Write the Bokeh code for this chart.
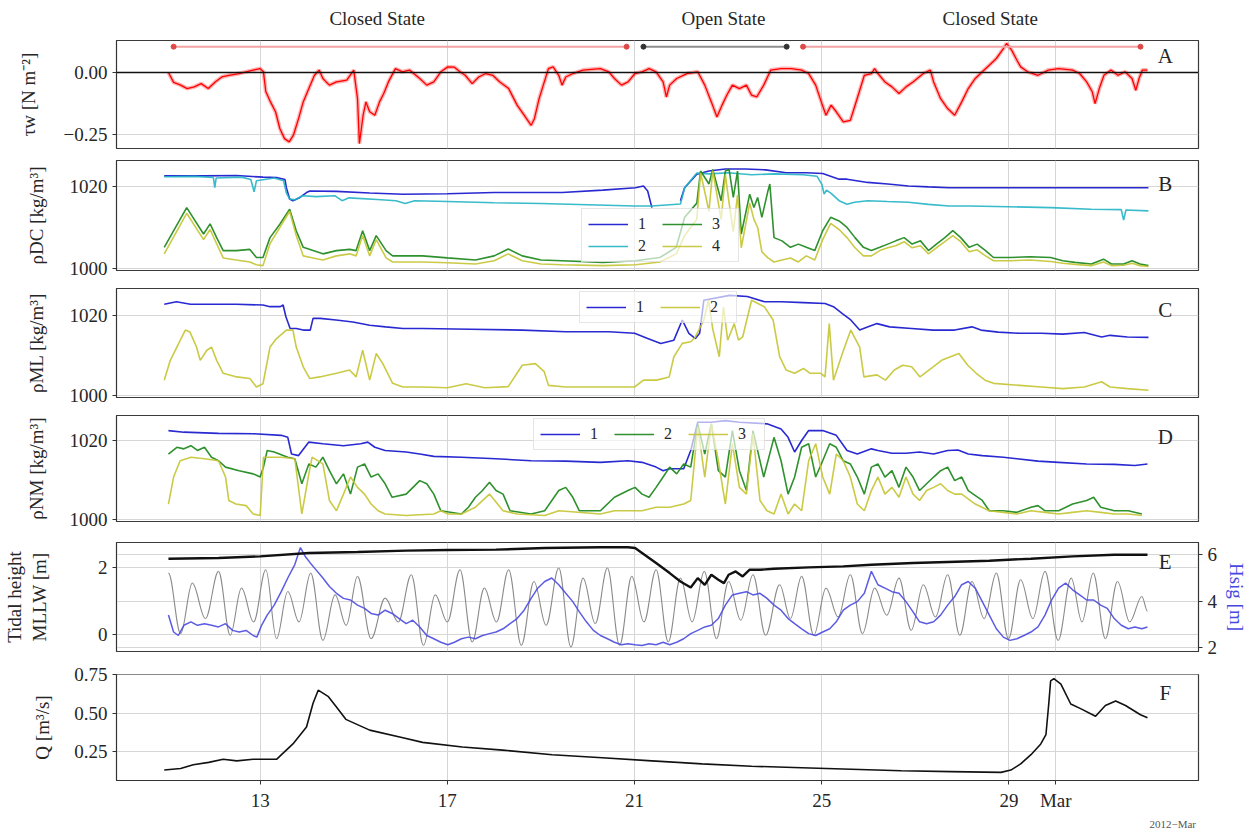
import numpy as np
from bokeh.plotting import figure
from bokeh.layouts import column
from bokeh.models import (Range1d, LinearAxis, FixedTicker, Span, Legend, LegendItem,
                          Label, Grid)
from bokeh.embed import file_html
from bokeh.resources import INLINE

# ------------------------------------------------------------------
# Data. Time is in days of February 2012 (day 30 = 1 March 2012).
# ------------------------------------------------------------------

# A: wind stress tau_w [N m^-2]
tau_w = [
    (11.04, 0.000), (11.15, -0.040), (11.29, -0.050), (11.44, -0.065), (11.59, -0.058),
    (11.74, -0.045), (11.89, -0.065), (12.04, -0.038), (12.18, -0.018), (12.33, -0.011),
    (12.55, -0.004), (12.85, 0.010), (13.00, 0.016), (13.07, 0.003), (13.12, -0.077),
    (13.22, -0.119), (13.33, -0.160), (13.42, -0.227), (13.52, -0.268), (13.62, -0.281),
    (13.71, -0.254), (13.82, -0.187), (13.92, -0.119), (14.04, -0.065), (14.16, -0.011),
    (14.26, 0.010), (14.34, -0.024), (14.41, -0.038), (14.48, -0.051), (14.63, -0.038),
    (14.85, -0.031), (15.00, 0.010), (15.08, -0.106), (15.12, -0.288), (15.20, -0.173),
    (15.26, -0.119), (15.34, -0.159), (15.45, -0.173), (15.55, -0.119), (15.64, -0.085),
    (15.74, -0.038), (15.89, 0.016), (16.04, 0.003), (16.19, 0.010), (16.41, -0.024),
    (16.56, -0.051), (16.71, -0.038), (16.86, 0.003), (17.01, 0.023), (17.15, 0.022),
    (17.27, 0.003), (17.38, -0.011), (17.53, -0.045), (17.67, -0.018), (17.82, -0.004),
    (17.97, -0.011), (18.12, -0.038), (18.31, -0.065), (18.49, -0.132), (18.64, -0.173),
    (18.79, -0.214), (18.86, -0.187), (18.96, -0.106), (19.05, -0.051), (19.16, 0.016),
    (19.26, 0.023), (19.38, -0.011), (19.45, -0.051), (19.53, -0.018), (19.68, -0.004),
    (19.90, 0.010), (20.27, 0.016), (20.45, 0.003), (20.57, -0.024), (20.72, -0.051),
    (20.86, -0.038), (21.01, -0.004), (21.16, 0.003), (21.31, 0.016), (21.46, 0.003),
    (21.61, -0.038), (21.68, -0.099), (21.75, -0.051), (21.90, -0.024), (22.12, -0.004),
    (22.35, 0.003), (22.50, -0.051), (22.64, -0.119), (22.76, -0.180), (22.87, -0.132),
    (22.97, -0.092), (23.09, -0.051), (23.24, -0.065), (23.39, -0.051), (23.50, -0.092),
    (23.61, -0.099), (23.76, -0.051), (23.91, 0.010), (24.13, 0.016), (24.35, 0.016),
    (24.57, 0.010), (24.72, -0.004), (24.87, -0.051), (24.99, -0.119), (25.09, -0.173),
    (25.20, -0.132), (25.31, -0.159), (25.46, -0.200), (25.61, -0.194), (25.69, -0.146),
    (25.79, -0.085), (25.91, -0.011), (26.06, -0.004), (26.13, 0.016), (26.20, -0.004),
    (26.35, -0.038), (26.50, -0.058), (26.65, -0.085), (26.80, -0.058), (26.95, -0.038),
    (27.17, -0.004), (27.32, 0.010), (27.39, -0.038), (27.54, -0.106), (27.69, -0.146),
    (27.84, -0.173), (27.99, -0.119), (28.13, -0.065), (28.28, -0.024), (28.43, 0.003),
    (28.58, 0.030), (28.73, 0.057), (28.88, 0.097), (28.95, 0.118), (29.06, 0.090),
    (29.17, 0.050), (29.25, 0.023), (29.40, 0.003), (29.62, -0.011), (29.84, 0.010),
    (30.06, 0.016), (30.36, 0.010), (30.51, -0.004), (30.66, -0.038), (30.78, -0.078),
    (30.84, -0.126), (30.93, -0.065), (31.03, -0.011), (31.18, 0.010), (31.33, -0.011),
    (31.48, 0.003), (31.63, -0.024), (31.71, -0.072), (31.78, -0.024), (31.85, 0.010),
    (31.96, 0.010),
]

# Inlet states
state_names = ["Closed State", "Open State", "Closed State"]
state_start = [11.15, 21.19, 24.60]
state_end = [20.83, 24.25, 31.81]
state_title_day = [15.5, 22.9, 28.6]

# B: density at DC, sensors 1-4 [kg/m^3]
rho_dc_1 = [
    (10.95, 1022.7), (11.79, 1022.7), (12.49, 1022.8), (13.06, 1022.4), (13.35, 1022.3),
    (13.53, 1021.8), (13.56, 1019.8), (13.63, 1017.0), (13.70, 1016.6), (13.85, 1017.4),
    (13.99, 1018.6), (14.06, 1019.0), (14.63, 1018.9), (15.34, 1018.5), (16.05, 1018.2),
    (17.00, 1018.3), (18.00, 1018.6), (19.45, 1018.6), (20.32, 1019.2), (21.02, 1019.8),
    (21.19, 1020.2), (21.28, 1019.0), (21.37, 1014.9), (21.60, np.nan),
    (21.98, 1016.6), (22.07, 1019.8), (22.33, 1023.1), (22.59, 1023.9), (22.94, 1024.4),
    (23.37, 1024.4), (23.80, 1024.2), (24.24, 1023.5), (24.67, 1023.5), (25.02, 1023.3),
    (25.37, 1021.9), (25.54, 1021.9), (25.98, 1021.1), (26.41, 1020.7), (26.85, 1020.2),
    (27.28, 1020.0), (27.72, 1019.8), (28.15, 1019.8), (29.02, 1019.8), (29.89, 1019.8),
    (30.76, 1019.8), (31.98, 1019.8),
]
rho_dc_2 = [
    (10.95, 1022.5), (11.60, 1022.6), (12.00, 1022.3), (12.03, 1019.8), (12.06, 1022.2),
    (12.60, 1022.4), (12.80, 1021.8), (12.87, 1018.8), (12.92, 1021.5), (13.30, 1022.2),
    (13.50, 1021.5), (13.56, 1018.5), (13.63, 1017.0), (13.75, 1016.8), (13.90, 1017.8),
    (14.20, 1017.6), (14.60, 1017.8), (14.75, 1016.6), (14.90, 1017.3), (15.50, 1016.9),
    (15.90, 1016.6), (16.10, 1015.9), (16.30, 1016.6), (17.00, 1016.4), (18.00, 1016.1),
    (19.00, 1015.9), (20.00, 1015.6), (21.00, 1015.3), (21.37, 1015.3), (21.98, 1015.8),
    (22.07, 1019.8), (22.33, 1023.4), (22.60, 1023.2), (23.00, 1023.5), (23.50, 1023.0),
    (24.00, 1023.2), (24.60, 1023.0), (24.90, 1022.6), (25.00, 1020.7), (25.05, 1018.2),
    (25.10, 1019.2), (25.20, 1018.4), (25.37, 1016.6), (25.54, 1015.7), (25.70, 1016.2),
    (25.98, 1016.6), (26.40, 1016.4), (26.85, 1016.2), (27.28, 1015.7), (27.72, 1015.3),
    (28.15, 1015.3), (29.00, 1015.1), (29.89, 1014.9), (30.76, 1014.5), (31.40, 1014.4),
    (31.45, 1011.8), (31.50, 1014.3), (31.98, 1014.1),
]
rho_dc_3 = [
    (10.95, 1005.1), (11.43, 1014.9), (11.79, 1008.4), (11.93, 1010.9), (12.07, 1007.5),
    (12.21, 1004.3), (12.49, 1004.3), (12.78, 1004.6), (12.92, 1002.6), (13.06, 1002.6),
    (13.21, 1007.5), (13.42, 1010.8), (13.63, 1014.5), (13.77, 1009.2), (13.92, 1005.1),
    (14.13, 1004.3), (14.34, 1003.5), (14.63, 1004.3), (14.91, 1004.6), (15.05, 1004.3),
    (15.19, 1009.2), (15.34, 1004.3), (15.48, 1008.0), (15.69, 1004.3), (15.83, 1003.0),
    (16.05, 1003.0), (16.47, 1003.0), (17.00, 1002.5), (17.60, 1002.0), (18.00, 1003.0),
    (18.30, 1004.7), (18.60, 1003.0), (19.00, 1002.0), (19.45, 1001.8), (20.32, 1001.4),
    (21.02, 1001.8), (21.54, 1002.6), (21.89, 1005.1), (22.07, 1012.5), (22.33, 1016.0),
    (22.41, 1023.9), (22.59, 1020.7), (22.67, 1024.3), (22.85, 1016.6), (22.94, 1023.9),
    (23.02, 1024.3), (23.11, 1017.4), (23.20, 1023.9), (23.28, 1008.4), (23.46, 1018.2),
    (23.55, 1014.9), (23.63, 1017.4), (23.72, 1012.5), (23.85, 1019.0), (23.89, 1020.7),
    (23.98, 1007.5), (24.15, 1006.7), (24.33, 1005.1), (24.50, 1005.9), (24.67, 1005.1),
    (24.85, 1004.3), (25.02, 1009.2), (25.19, 1012.5), (25.37, 1011.6), (25.54, 1010.0),
    (25.71, 1007.5), (25.89, 1005.1), (26.06, 1004.3), (26.24, 1005.1), (26.41, 1005.9),
    (26.58, 1006.7), (26.76, 1007.5), (26.93, 1005.9), (27.11, 1006.7), (27.28, 1004.3),
    (27.45, 1005.9), (27.63, 1007.5), (27.80, 1009.2), (27.97, 1007.5), (28.15, 1005.1),
    (28.32, 1005.9), (28.50, 1004.3), (28.67, 1002.6), (29.02, 1002.6), (29.45, 1002.8),
    (29.89, 1002.6), (30.15, 1001.8), (30.41, 1001.4), (30.76, 1001.0), (31.02, 1002.2),
    (31.19, 1001.0), (31.45, 1001.0), (31.63, 1001.8), (31.80, 1001.0), (31.98, 1000.6),
]
rho_dc_4 = [
    (10.95, 1003.5), (11.43, 1013.5), (11.79, 1007.0), (11.93, 1009.5), (12.07, 1006.0),
    (12.21, 1002.5), (12.49, 1002.0), (12.78, 1001.5), (12.92, 1000.8), (13.06, 1000.6),
    (13.21, 1006.0), (13.42, 1010.0), (13.63, 1014.0), (13.77, 1008.0), (13.92, 1003.0),
    (14.13, 1002.5), (14.34, 1002.0), (14.63, 1003.0), (14.91, 1003.5), (15.05, 1003.0),
    (15.19, 1008.0), (15.34, 1003.0), (15.48, 1007.0), (15.69, 1002.5), (15.83, 1001.5),
    (16.05, 1001.5), (16.47, 1001.5), (17.00, 1001.3), (17.60, 1001.0), (18.00, 1001.8),
    (18.30, 1003.5), (18.60, 1001.8), (19.00, 1001.0), (19.45, 1000.8), (20.32, 1000.6),
    (21.02, 1000.8), (21.54, 1001.5), (21.89, 1003.5), (22.07, 1008.0), (22.33, 1012.0),
    (22.41, 1023.5), (22.59, 1014.0), (22.67, 1024.0), (22.85, 1012.0), (22.94, 1023.0),
    (23.02, 1016.0), (23.11, 1009.0), (23.20, 1018.0), (23.28, 1005.0), (23.46, 1016.0),
    (23.55, 1012.0), (23.63, 1010.0), (23.72, 1004.0), (23.85, 1002.5), (23.98, 1001.5),
    (24.15, 1002.0), (24.33, 1002.5), (24.50, 1001.5), (24.67, 1003.0), (24.85, 1002.0),
    (25.02, 1007.0), (25.19, 1011.0), (25.37, 1009.5), (25.54, 1007.5), (25.71, 1005.0),
    (25.89, 1003.0), (26.06, 1003.0), (26.24, 1004.3), (26.41, 1005.0), (26.58, 1005.5),
    (26.76, 1006.5), (26.93, 1005.0), (27.11, 1005.5), (27.28, 1003.5), (27.45, 1005.0),
    (27.63, 1006.5), (27.80, 1008.0), (27.97, 1006.5), (28.15, 1004.0), (28.32, 1004.5),
    (28.50, 1003.0), (28.67, 1001.8), (29.02, 1001.8), (29.45, 1002.0), (29.89, 1001.6),
    (30.15, 1001.2), (30.41, 1000.9), (30.76, 1000.6), (31.02, 1001.5), (31.19, 1000.6),
    (31.45, 1000.7), (31.63, 1001.2), (31.80, 1000.6), (31.98, 1000.4),
]

# C: density at ML, sensors 1-2 [kg/m^3]
rho_ml_1 = [
    (10.95, 1022.7), (11.21, 1023.3), (11.51, 1022.7), (11.79, 1022.7), (12.49, 1022.7),
    (13.06, 1022.5), (13.21, 1022.1), (13.43, 1022.1), (13.49, 1022.5), (13.55, 1019.6),
    (13.64, 1016.7), (13.77, 1016.7), (13.92, 1016.3), (14.07, 1016.3), (14.13, 1019.2),
    (14.28, 1019.2), (14.62, 1018.8), (14.98, 1018.3), (15.34, 1017.5), (15.68, 1017.1),
    (16.05, 1016.7), (16.47, 1016.7), (17.50, 1016.5), (18.60, 1016.3), (19.53, 1015.9),
    (20.45, 1015.9), (21.00, 1015.5), (21.28, 1014.2), (21.56, 1013.0), (21.84, 1013.8),
    (22.02, 1018.8), (22.16, 1015.5), (22.30, 1014.2), (22.39, 1015.5), (22.48, 1023.7),
    (23.03, 1024.9), (23.41, 1024.6), (23.78, 1023.3), (24.14, 1023.3), (24.61, 1023.1),
    (25.07, 1022.9), (25.25, 1022.1), (25.44, 1020.4), (25.62, 1018.8), (25.81, 1016.3),
    (25.99, 1017.1), (26.18, 1017.9), (26.45, 1017.1), (26.92, 1016.7), (27.38, 1016.3),
    (27.84, 1016.3), (28.21, 1017.1), (28.40, 1016.3), (28.77, 1015.8), (29.23, 1015.5),
    (29.69, 1015.5), (30.15, 1015.3), (30.61, 1015.7), (30.98, 1014.6), (31.16, 1015.0),
    (31.53, 1014.6), (31.98, 1014.5),
]
rho_ml_2 = [
    (10.95, 1003.9), (11.08, 1008.8), (11.22, 1012.1), (11.40, 1016.3), (11.50, 1015.8),
    (11.64, 1012.1), (11.72, 1008.8), (11.86, 1011.3), (11.96, 1012.1), (12.07, 1008.8),
    (12.21, 1005.6), (12.50, 1004.7), (12.78, 1004.3), (12.92, 1002.2), (13.06, 1003.0),
    (13.21, 1012.1), (13.35, 1014.2), (13.56, 1016.3), (13.70, 1016.3), (13.77, 1012.1),
    (13.92, 1007.2), (14.06, 1004.3), (14.27, 1004.7), (14.63, 1005.6), (14.91, 1006.4),
    (15.05, 1004.7), (15.19, 1011.3), (15.34, 1003.9), (15.48, 1010.5), (15.62, 1008.0),
    (15.83, 1003.1), (16.05, 1002.2), (16.47, 1002.2), (17.00, 1002.0), (17.40, 1003.0),
    (17.80, 1002.0), (18.30, 1002.3), (18.60, 1007.6), (18.88, 1008.0), (19.07, 1006.0),
    (19.16, 1002.6), (19.53, 1002.2), (20.45, 1002.2), (21.00, 1002.2), (21.19, 1003.9),
    (21.47, 1003.9), (21.74, 1004.7), (21.84, 1009.7), (22.02, 1013.0), (22.20, 1013.4),
    (22.30, 1014.6), (22.48, 1018.8), (22.58, 1023.7), (22.67, 1016.6), (22.81, 1009.7),
    (22.90, 1022.0), (22.99, 1013.8), (23.13, 1017.9), (23.22, 1013.8), (23.31, 1014.6),
    (23.50, 1023.7), (23.78, 1022.0), (23.96, 1018.8), (24.10, 1009.7), (24.24, 1006.4),
    (24.42, 1005.6), (24.61, 1006.8), (24.75, 1005.6), (24.98, 1005.6), (25.07, 1004.7),
    (25.16, 1017.9), (25.25, 1003.9), (25.44, 1010.5), (25.62, 1016.3), (25.81, 1012.1),
    (25.90, 1004.7), (26.18, 1005.2), (26.36, 1003.9), (26.55, 1006.4), (26.73, 1007.6),
    (26.92, 1007.2), (27.10, 1004.7), (27.38, 1007.2), (27.56, 1008.8), (27.75, 1009.7),
    (27.93, 1010.5), (28.12, 1007.6), (28.30, 1005.6), (28.49, 1003.9), (28.67, 1003.1),
    (29.23, 1002.6), (29.69, 1002.2), (30.15, 1001.8), (30.61, 1002.2), (30.98, 1003.5),
    (31.16, 1002.2), (31.53, 1001.8), (31.98, 1001.4),
]

# D: density at NM, sensors 1-3 [kg/m^3]
rho_nm_1 = [
    (11.04, 1022.5), (11.37, 1022.1), (12.11, 1021.8), (12.85, 1021.7), (13.45, 1021.3),
    (13.59, 1020.8), (13.67, 1016.6), (13.82, 1016.2), (14.04, 1019.6), (14.34, 1019.2),
    (14.78, 1018.7), (15.15, 1019.2), (15.30, 1019.6), (15.45, 1018.3), (15.67, 1017.5),
    (16.12, 1017.1), (16.41, 1016.6), (16.71, 1016.0), (17.30, 1015.8), (18.04, 1015.4),
    (18.79, 1014.9), (19.53, 1014.8), (20.27, 1014.5), (20.86, 1014.9), (21.16, 1014.5),
    (21.46, 1013.3), (21.61, 1012.4), (21.75, 1012.9), (22.05, 1012.9), (22.20, 1017.5),
    (22.35, 1024.6), (22.64, 1024.6), (22.94, 1025.0), (23.24, 1024.6), (23.83, 1024.2),
    (24.13, 1022.9), (24.28, 1020.8), (24.42, 1017.1), (24.57, 1020.0), (24.72, 1022.5),
    (25.02, 1022.5), (25.31, 1021.3), (25.54, 1017.5), (25.76, 1016.6), (26.06, 1017.9),
    (26.20, 1017.5), (26.50, 1016.8), (26.80, 1016.8), (27.09, 1017.1), (27.39, 1016.6),
    (27.69, 1017.5), (27.91, 1017.6), (28.13, 1016.6), (28.43, 1016.2), (28.88, 1015.8),
    (29.17, 1015.4), (29.62, 1014.8), (30.06, 1014.5), (30.66, 1014.1), (31.25, 1014.0),
    (31.69, 1013.7), (31.96, 1014.1),
]
rho_nm_2 = [
    (11.04, 1016.6), (11.22, 1018.3), (11.37, 1017.9), (11.52, 1018.7), (11.66, 1017.5),
    (11.81, 1018.3), (11.96, 1015.8), (12.11, 1014.9), (12.26, 1013.3), (12.55, 1012.4),
    (12.85, 1011.6), (13.00, 1010.8), (13.07, 1013.3), (13.15, 1017.5), (13.30, 1017.1),
    (13.59, 1015.8), (13.74, 1015.4), (13.89, 1009.1), (14.04, 1014.1), (14.19, 1013.3),
    (14.34, 1015.8), (14.48, 1012.4), (14.63, 1009.1), (14.78, 1011.6), (14.93, 1006.5),
    (15.08, 1013.3), (15.23, 1014.1), (15.37, 1010.8), (15.52, 1011.6), (15.67, 1009.1),
    (15.82, 1005.7), (16.12, 1006.5), (16.41, 1009.9), (16.56, 1009.1), (16.71, 1006.5),
    (16.86, 1002.3), (17.30, 1001.5), (17.45, 1003.2), (17.60, 1005.7), (17.75, 1007.4),
    (17.90, 1009.5), (18.04, 1007.4), (18.19, 1006.5), (18.34, 1002.3), (18.79, 1001.5),
    (19.08, 1002.3), (19.38, 1007.4), (19.53, 1008.2), (19.68, 1005.7), (19.82, 1002.3),
    (20.27, 1002.3), (20.57, 1005.7), (20.86, 1007.4), (21.01, 1008.2), (21.16, 1006.5),
    (21.31, 1005.7), (21.46, 1008.2), (21.61, 1010.8), (21.75, 1013.3), (21.90, 1011.6),
    (22.05, 1014.1), (22.20, 1013.3), (22.35, 1024.2), (22.50, 1016.6), (22.64, 1024.2),
    (22.79, 1012.4), (22.94, 1010.8), (23.09, 1022.5), (23.24, 1012.4), (23.39, 1007.4),
    (23.53, 1022.5), (23.76, 1010.8), (23.98, 1020.8), (24.13, 1014.9), (24.28, 1006.5),
    (24.42, 1010.8), (24.57, 1018.3), (24.72, 1019.2), (24.87, 1010.8), (25.02, 1014.9),
    (25.17, 1019.2), (25.31, 1018.3), (25.46, 1014.9), (25.61, 1014.1), (25.76, 1010.8),
    (25.91, 1006.5), (26.06, 1013.3), (26.20, 1014.1), (26.35, 1010.8), (26.50, 1012.4),
    (26.65, 1008.2), (26.80, 1013.3), (26.95, 1010.8), (27.09, 1007.4), (27.24, 1009.1),
    (27.39, 1010.8), (27.54, 1012.4), (27.69, 1013.3), (27.84, 1009.9), (27.99, 1010.8),
    (28.13, 1007.4), (28.43, 1004.9), (28.58, 1002.3), (28.88, 1002.3), (29.17, 1001.9),
    (29.47, 1003.2), (29.62, 1003.6), (29.77, 1002.3), (30.06, 1002.3), (30.36, 1004.0),
    (30.66, 1004.9), (30.81, 1005.7), (30.96, 1003.2), (31.25, 1002.3), (31.55, 1002.3),
    (31.84, 1001.5),
]
rho_nm_3 = [
    (11.04, 1004.0), (11.15, 1010.8), (11.29, 1014.9), (11.52, 1015.8), (11.81, 1015.4),
    (12.11, 1014.9), (12.26, 1010.8), (12.33, 1004.9), (12.48, 1004.0), (12.70, 1003.6),
    (12.85, 1001.5), (13.00, 1001.1), (13.07, 1015.8), (13.45, 1015.8), (13.74, 1015.4),
    (13.89, 1001.5), (14.04, 1011.6), (14.11, 1015.8), (14.34, 1014.1), (14.48, 1004.9),
    (14.63, 1002.3), (14.78, 1006.5), (14.93, 1010.8), (15.08, 1008.2), (15.23, 1006.5),
    (15.37, 1004.0), (15.52, 1002.3), (15.67, 1001.5), (16.12, 1001.1), (16.71, 1001.5),
    (16.86, 1002.3), (17.01, 1001.5), (17.30, 1001.5), (17.60, 1003.2), (17.90, 1006.5),
    (18.19, 1002.3), (18.49, 1001.5), (19.08, 1001.1), (19.38, 1002.3), (20.27, 1001.5),
    (20.57, 1002.3), (21.16, 1002.3), (21.46, 1003.2), (21.75, 1003.2), (22.05, 1004.0),
    (22.20, 1004.9), (22.35, 1023.4), (22.50, 1010.8), (22.64, 1024.2), (22.79, 1014.9),
    (22.94, 1004.0), (23.09, 1019.2), (23.24, 1008.2), (23.39, 1006.5), (23.53, 1021.7),
    (23.68, 1004.9), (23.83, 1002.3), (23.98, 1001.5), (24.13, 1006.5), (24.28, 1001.5),
    (24.42, 1004.0), (24.57, 1002.3), (24.72, 1014.9), (24.87, 1019.2), (25.02, 1010.8),
    (25.17, 1006.5), (25.31, 1016.6), (25.46, 1014.9), (25.61, 1010.8), (25.76, 1004.0),
    (25.91, 1002.3), (26.06, 1007.4), (26.20, 1010.8), (26.35, 1006.5), (26.50, 1008.2),
    (26.65, 1005.7), (26.80, 1010.8), (26.95, 1006.5), (27.09, 1004.9), (27.24, 1007.4),
    (27.39, 1008.2), (27.54, 1009.1), (27.69, 1007.4), (27.84, 1006.5), (27.99, 1006.5),
    (28.28, 1004.0), (28.58, 1002.3), (28.88, 1001.9), (29.17, 1001.5), (29.47, 1002.3),
    (29.77, 1001.9), (30.06, 1001.5), (30.36, 1001.9), (30.66, 1002.3), (30.96, 1001.9),
    (31.25, 1001.5), (31.55, 1001.5), (31.84, 1001.1),
]

# E: tidal height (turning points), MLLW [m]
tide_turning = [
    (11.04, 1.84), (11.30, 0.03), (11.55, 1.54), (11.83, 0.48), (12.11, 1.89), (12.36, -0.02),
    (12.60, 1.39), (12.86, 0.38), (13.12, 1.94), (13.35, -0.12), (13.59, 1.29), (13.83, 0.38),
    (14.08, 1.84), (14.34, -0.17), (14.60, 1.19), (14.84, 0.28), (15.08, 1.74), (15.37, -0.12),
    (15.67, 1.09), (15.95, 0.38), (16.23, 1.79), (16.49, -0.32), (16.74, 1.19), (17.00, 0.38),
    (17.27, 1.94), (17.53, -0.22), (17.79, 1.39), (18.05, 0.38), (18.31, 1.94), (18.58, -0.32),
    (18.85, 1.59), (19.11, 0.28), (19.38, 1.99), (19.64, -0.37), (19.90, 1.69), (20.16, 0.33),
    (20.42, 1.99), (20.68, -0.32), (20.94, 1.74), (21.20, 0.38), (21.46, 1.94), (21.72, -0.22),
    (21.98, 1.69), (22.23, 0.38), (22.49, 1.89), (22.75, -0.12), (23.01, 1.59), (23.27, 0.43),
    (23.53, 1.79), (23.80, -0.02), (24.10, 1.49), (24.33, 0.48), (24.57, 1.74), (24.83, -0.02),
    (25.09, 1.39), (25.35, 0.53), (25.61, 1.79), (25.87, 0.03), (26.13, 1.39), (26.39, 0.58),
    (26.65, 1.69), (26.91, 0.13), (27.17, 1.49), (27.43, 0.53), (27.69, 1.79), (27.95, -0.02),
    (28.21, 1.59), (28.47, 0.48), (28.73, 1.84), (28.99, -0.12), (29.25, 1.64), (29.51, 0.48),
    (29.77, 1.89), (30.05, -0.17), (30.33, 1.69), (30.56, 0.38), (30.80, 1.84), (31.06, -0.12),
    (31.32, 1.59), (31.58, 0.38), (31.84, 1.14), (31.96, 0.70),
]
# E: slowly varying level (black) [m]
level_mllw = [
    (11.04, 2.27), (12.11, 2.29), (13.00, 2.34), (14.04, 2.44), (15.08, 2.47), (16.12, 2.51),
    (17.01, 2.53), (18.04, 2.54), (19.08, 2.59), (20.27, 2.61), (20.86, 2.61), (21.01, 2.59),
    (21.16, 2.44), (21.46, 2.14), (21.75, 1.84), (21.98, 1.59), (22.20, 1.41), (22.35, 1.69),
    (22.50, 1.49), (22.64, 1.79), (22.79, 1.64), (22.91, 1.54), (23.01, 1.79), (23.16, 1.89),
    (23.31, 1.74), (23.46, 1.94), (23.68, 1.94), (23.98, 1.97), (24.72, 2.01), (25.46, 2.04),
    (26.06, 2.09), (26.95, 2.14), (27.69, 2.17), (28.58, 2.21), (29.47, 2.27), (30.36, 2.34),
    (31.25, 2.39), (31.96, 2.39),
]
# E: significant wave height H_sig [m]
h_sig = [
    (11.04, 3.40), (11.15, 2.67), (11.25, 2.52), (11.37, 2.96), (11.52, 3.11), (11.66, 2.96),
    (11.81, 3.03), (11.96, 2.96), (12.11, 2.89), (12.26, 3.03), (12.41, 2.74), (12.55, 2.67),
    (12.70, 2.74), (12.85, 2.52), (12.93, 2.45), (13.03, 2.96), (13.15, 3.40), (13.30, 3.83),
    (13.45, 4.41), (13.59, 5.00), (13.74, 5.58), (13.86, 6.31), (13.96, 5.94), (14.07, 5.65),
    (14.19, 5.36), (14.34, 5.00), (14.48, 4.63), (14.63, 4.34), (14.78, 4.12), (14.93, 4.05),
    (15.08, 3.83), (15.23, 3.69), (15.37, 3.47), (15.52, 3.40), (15.67, 3.61), (15.82, 3.47),
    (15.97, 3.25), (16.12, 3.03), (16.26, 3.18), (16.41, 2.89), (16.56, 2.52), (16.71, 2.38),
    (16.86, 2.23), (17.01, 2.12), (17.15, 2.23), (17.30, 2.38), (17.45, 2.45), (17.60, 2.38),
    (17.75, 2.52), (17.90, 2.60), (18.04, 2.67), (18.19, 2.81), (18.34, 3.03), (18.49, 3.25),
    (18.64, 3.61), (18.79, 4.12), (18.93, 4.56), (19.08, 4.85), (19.23, 5.00), (19.38, 4.71),
    (19.53, 4.34), (19.68, 3.98), (19.82, 3.54), (19.97, 3.11), (20.12, 2.74), (20.27, 2.52),
    (20.42, 2.38), (20.57, 2.23), (20.72, 2.12), (20.86, 2.16), (21.01, 2.12), (21.16, 2.09),
    (21.31, 2.16), (21.46, 2.12), (21.61, 2.23), (21.75, 2.12), (21.90, 2.23), (22.05, 2.38),
    (22.20, 2.60), (22.35, 2.74), (22.50, 2.89), (22.64, 2.96), (22.79, 3.25), (22.94, 3.83),
    (23.09, 4.27), (23.24, 4.34), (23.39, 4.41), (23.53, 4.27), (23.68, 4.34), (23.83, 4.12),
    (23.98, 3.83), (24.13, 3.61), (24.28, 3.25), (24.42, 3.03), (24.57, 2.81), (24.72, 2.60),
    (24.87, 2.52), (25.02, 2.67), (25.17, 2.81), (25.31, 3.11), (25.46, 3.61), (25.61, 3.83),
    (25.76, 3.98), (25.91, 4.34), (26.06, 5.29), (26.20, 4.71), (26.35, 4.56), (26.50, 4.41),
    (26.65, 4.34), (26.80, 3.98), (26.95, 3.54), (27.09, 3.11), (27.24, 3.03), (27.39, 3.11),
    (27.54, 3.40), (27.69, 3.83), (27.84, 4.20), (27.99, 4.71), (28.13, 4.85), (28.28, 4.56),
    (28.43, 3.98), (28.58, 3.40), (28.73, 2.81), (28.88, 2.45), (29.02, 2.31), (29.17, 2.38),
    (29.32, 2.52), (29.47, 2.67), (29.62, 2.89), (29.77, 3.40), (29.91, 4.05), (30.06, 4.56),
    (30.21, 4.78), (30.36, 4.49), (30.51, 4.27), (30.66, 4.05), (30.81, 4.05), (30.96, 3.83),
    (31.10, 3.69), (31.25, 3.25), (31.40, 2.96), (31.55, 2.81), (31.69, 2.89), (31.84, 2.81),
    (31.96, 2.89),
]

# F: river discharge Q [m^3/s]
discharge = [
    (10.95, 0.13), (11.30, 0.14), (11.57, 0.165), (11.90, 0.18), (12.21, 0.20), (12.50, 0.19),
    (12.85, 0.20), (13.35, 0.20), (13.49, 0.24), (13.70, 0.30), (13.99, 0.41), (14.13, 0.565),
    (14.24, 0.65), (14.45, 0.61), (14.63, 0.54), (14.83, 0.46), (15.34, 0.39), (16.05, 0.34),
    (16.47, 0.31), (17.32, 0.28), (18.18, 0.26), (19.24, 0.23), (20.31, 0.21), (21.37, 0.19),
    (22.44, 0.17), (23.50, 0.155), (24.57, 0.145), (25.63, 0.135), (26.70, 0.125), (27.76, 0.12),
    (28.83, 0.115), (29.04, 0.13), (29.25, 0.17), (29.47, 0.23), (29.68, 0.30), (29.79, 0.36),
    (29.85, 0.56), (29.89, 0.71), (29.96, 0.725), (30.11, 0.69), (30.32, 0.56), (30.53, 0.53),
    (30.85, 0.48), (31.06, 0.55), (31.28, 0.58), (31.49, 0.55), (31.81, 0.49), (31.96, 0.47),
]

day_ticks = [13, 17, 21, 25, 29, 30]
day_tick_names = {30: "Mar"}

# ------------------------------------------------------------------
# Styling
# ------------------------------------------------------------------
FONT = "Liberation Serif"
TXT = "#262626"
GRID = "#d6d6d6"
FS = "19px"
W = 1251
B_LEFT, B_RIGHT = 113, 53
C_BLUE, C_CYAN, C_GREEN, C_YELLOW = "#1212cc", "#22b4c4", "#178517", "#c4c432"
LETTER_X = 32.34

x_range = Range1d(9.93, 33.05)


def xy(pairs):
    a = np.array(pairs, dtype=float)
    return a[:, 0], a[:, 1]


def style_axis(ax):
    ax.axis_line_color = "#333333"
    ax.major_tick_line_color = "#333333"
    ax.major_tick_out = 4
    ax.major_tick_in = 0
    ax.minor_tick_line_color = None
    ax.major_label_standoff = 5
    ax.major_label_text_font = FONT
    ax.major_label_text_font_size = FS
    ax.major_label_text_color = TXT
    ax.axis_label_text_font = FONT
    ax.axis_label_text_font_size = FS
    ax.axis_label_text_font_style = "normal"
    ax.axis_label_text_color = TXT


def make_panel(height, b_top, b_bottom, y0, y1, yticks, ylabels, ylabel,
               label_standoff=8, show_x=False):
    p = figure(width=W, height=height, x_range=x_range, y_range=Range1d(y0, y1),
               output_backend="svg", toolbar_location=None,
               min_border_left=B_LEFT, min_border_right=B_RIGHT,
               min_border_top=b_top, min_border_bottom=b_bottom)
    p.outline_line_color = "#3a3a3a"
    p.outline_line_width = 1.2
    p.border_fill_color = "white"
    xa = p.xaxis[0]
    xa.ticker = FixedTicker(ticks=day_ticks)
    xa.major_label_overrides = day_tick_names
    style_axis(xa)
    xa.visible = show_x
    ya = p.yaxis[0]
    ya.ticker = FixedTicker(ticks=yticks)
    ya.major_label_overrides = dict(zip(yticks, ylabels))
    ya.axis_label = ylabel
    style_axis(ya)
    ya.axis_label_standoff = label_standoff
    p.xgrid.ticker = FixedTicker(ticks=day_ticks)
    p.ygrid.ticker = FixedTicker(ticks=yticks)
    p.xgrid.grid_line_color = GRID
    p.ygrid.grid_line_color = GRID
    return p


def letter(p, y, text):
    p.add_layout(Label(x=LETTER_X, y=y, text=text, text_font=FONT, text_font_size="21px",
                       text_color=TXT, text_align="center", text_baseline="middle"))


def legend(p, items, loc, ncols):
    lg = Legend(items=[LegendItem(label=l, renderers=[r]) for l, r in items],
                location=loc, ncols=ncols, orientation="vertical")
    lg.label_text_font = FONT
    lg.label_text_font_size = "16px"
    lg.label_text_color = TXT
    lg.glyph_width = 40
    lg.glyph_height = 14
    lg.label_standoff = 10
    lg.spacing = 4
    lg.padding = 6
    lg.margin = 0
    lg.background_fill_alpha = 0.65
    lg.border_line_color = "#cccccc"
    lg.border_line_width = 1
    p.add_layout(lg)
    return lg


# ------------------------------------------------------------------
# Panel A: wind stress + inlet states
# ------------------------------------------------------------------
pa = make_panel(155, 40, 7, -0.308, 0.130, [-0.25, 0.0], ["\u22120.25", "0.00"],
                "\u03c4w [N m\u207b\u00b2]", label_standoff=22)
pa.add_layout(Span(location=0, dimension="width", line_color="#111111", line_width=1.6))
td, tv = xy(tau_w)
pa.line(td, tv, line_color="red", line_width=4, line_alpha=0.3)
pa.line(td, tv, line_color="red", line_width=1.3)

BAR_Y = 0.105
bar_line = ["#f2a3a3", "#8e8e8e", "#f2a3a3"]
bar_mark = ["#e04848", "#333333", "#e04848"]
pa.segment(x0=state_start, y0=[BAR_Y] * 3, x1=state_end, y1=[BAR_Y] * 3,
           line_color=bar_line, line_width=2)
pa.scatter(x=state_start + state_end, y=[BAR_Y] * 6, marker="circle", size=5,
           fill_color=bar_mark + bar_mark, line_color=bar_mark + bar_mark)

top = LinearAxis(ticker=FixedTicker(ticks=state_title_day),
                 major_label_overrides=dict(zip(state_title_day, state_names)))
style_axis(top)
top.axis_line_color = None
top.major_tick_line_color = None
top.major_tick_out = 0
top.major_label_standoff = 12
pa.add_layout(top, "above")
letter(pa, 0.069, "A")

# ------------------------------------------------------------------
# Panel B
# ------------------------------------------------------------------
RHO_TICKS = [1000, 1020]
RHO_LAB = ["1000", "1020"]
pb = make_panel(127, 5, 12, 999.4, 1026.5, RHO_TICKS, RHO_LAB, "\u03c1DC [kg/m\u00b3]",
                label_standoff=20)
rb = []
for series, col in [(rho_dc_1, C_BLUE), (rho_dc_2, C_CYAN), (rho_dc_3, C_GREEN),
                    (rho_dc_4, C_YELLOW)]:
    d, v = xy(series)
    rb.append(pb.line(d, v, line_color=col, line_width=1.6, line_alpha=0.9))
legend(pb, [("1", rb[0]), ("2", rb[1]), ("3", rb[2]), ("4", rb[3])], (465, 8), 2)
letter(pb, 1020.7, "B")

# ------------------------------------------------------------------
# Panel C
# ------------------------------------------------------------------
pc = make_panel(127, 6, 12, 999.6, 1026.6, RHO_TICKS, RHO_LAB, "\u03c1ML [kg/m\u00b3]",
                label_standoff=20)
rc = []
for series, col in [(rho_ml_1, C_BLUE), (rho_ml_2, C_YELLOW)]:
    d, v = xy(series)
    rc.append(pc.line(d, v, line_color=col, line_width=1.6, line_alpha=0.9))
legend(pc, [("1", rc[0]), ("2", rc[1])], (463, 74), 2)
letter(pc, 1021.3, "C")

# ------------------------------------------------------------------
# Panel D
# ------------------------------------------------------------------
pd_ = make_panel(124, 6, 12, 999.6, 1026.3, RHO_TICKS, RHO_LAB, "\u03c1NM [kg/m\u00b3]",
                 label_standoff=20)
rd = []
for series, col in [(rho_nm_1, C_BLUE), (rho_nm_2, C_GREEN), (rho_nm_3, C_YELLOW)]:
    d, v = xy(series)
    rd.append(pd_.line(d, v, line_color=col, line_width=1.6, line_alpha=0.9))
legend(pd_, [("1", rd[0]), ("2", rd[1]), ("3", rd[2])], (417, 71), 3)
letter(pd_, 1020.8, "D")

# ------------------------------------------------------------------
# Panel E: tide, level and wave height
# ------------------------------------------------------------------
pe = make_panel(130, 9, 12, -0.504, 2.754, [0, 2], ["0", "2"], "Tidal height\nMLLW [m]",
                label_standoff=45)
pe.extra_y_ranges = {"hs": Range1d(1.83, 6.53)}
right = LinearAxis(y_range_name="hs", ticker=FixedTicker(ticks=[2, 4, 6]), axis_label="Hsig [m]")
style_axis(right)
right.axis_label_text_color = "#4848e0"
right.axis_label_standoff = 6
pe.add_layout(right, "right")
pe.add_layout(Grid(dimension=1, y_range_name="hs", ticker=FixedTicker(ticks=[2, 4, 6]),
                   grid_line_color=GRID))

t_d, t_v = xy(tide_turning)
dt = np.diff(t_d)
pe.bezier(x0=t_d[:-1], y0=t_v[:-1], x1=t_d[1:], y1=t_v[1:],
          cx0=t_d[:-1] + 0.36 * dt, cy0=t_v[:-1], cx1=t_d[1:] - 0.36 * dt, cy1=t_v[1:],
          line_color="#8a8a8a", line_width=1.1)
h_d, h_v = xy(h_sig)
pe.line(h_d, h_v, y_range_name="hs", line_color="#4a4ae0", line_width=1.5, line_alpha=0.9)
l_d, l_v = xy(level_mllw)
pe.line(l_d, l_v, line_color="#111111", line_width=2.4)
letter(pe, 2.17, "E")

# ------------------------------------------------------------------
# Panel F: discharge
# ------------------------------------------------------------------
pf = make_panel(169, 11, 50, 0.062, 0.752, [0.25, 0.5, 0.75], ["0.25", "0.50", "0.75"],
                "Q [m\u00b3/s]", label_standoff=18, show_x=True)
q_d, q_v = xy(discharge)
pf.line(q_d, q_v, line_color="#111111", line_width=1.6)
offset = LinearAxis(ticker=FixedTicker(ticks=[32.5]), major_label_overrides={32.5: "2012\u2212Mar"})
style_axis(offset)
offset.axis_line_color = None
offset.major_tick_line_color = None
offset.major_tick_out = 0
offset.major_label_standoff = 4
offset.major_label_text_font_size = "11px"
offset.major_label_text_color = "#555555"
pf.add_layout(offset, "below")
letter(pf, 0.63, "F")

layout = column(pa, pb, pc, pd_, pe, pf, spacing=0)
open("out.html", "w").write(file_html(layout, INLINE, title="Inlet time series"))
